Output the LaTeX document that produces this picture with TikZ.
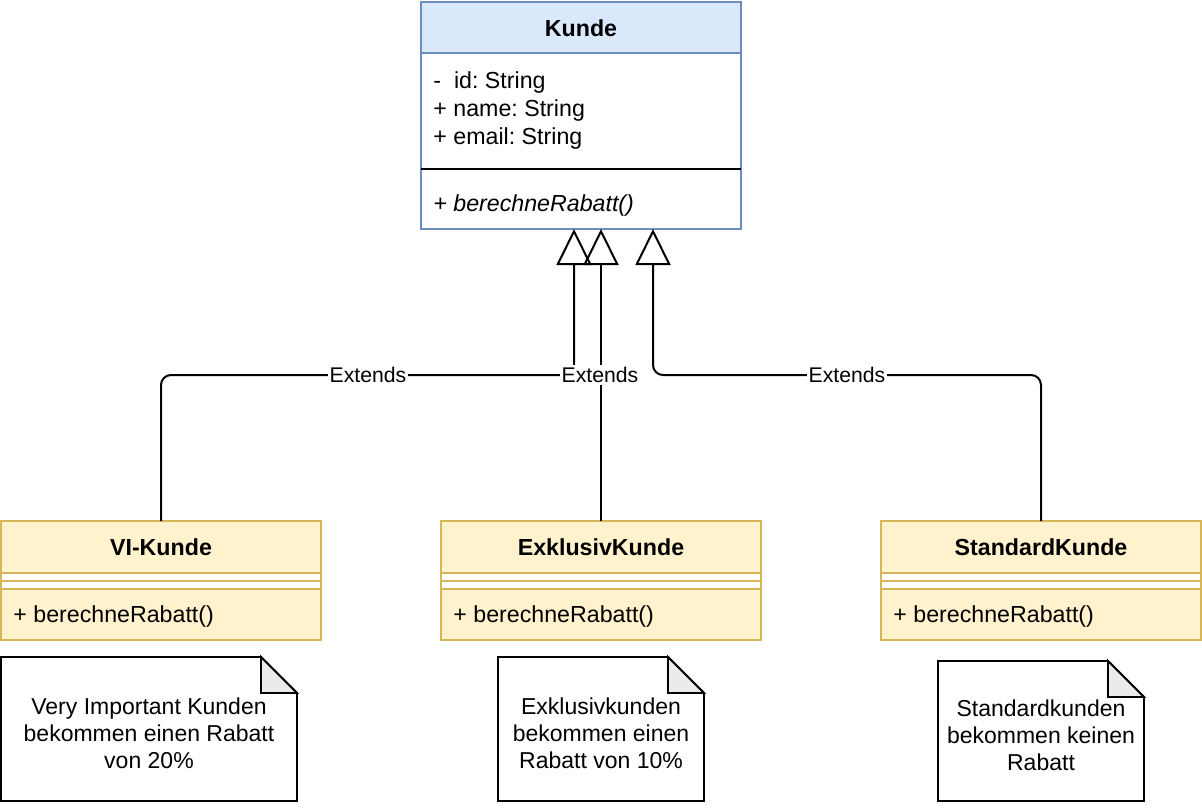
\documentclass[tikz,border=0pt]{standalone}
\usepackage{fontspec}
\setmainfont{Liberation Sans}
\frenchspacing
\usetikzlibrary{positioning,calc,arrows.meta}

\definecolor{kundefill}{HTML}{DAE8FC}
\definecolor{kundeline}{HTML}{6C8EBF}
\definecolor{subfill}{HTML}{FFF2CC}
\definecolor{subline}{HTML}{D6B656}
\definecolor{foldfill}{HTML}{EBEBEB}

\begin{document}
\begin{tikzpicture}[x=0.5pt, y=-0.5pt,
    kundehead/.style={draw=kundeline, fill=kundefill, line width=0.8pt,
      minimum width=160pt, minimum height=26pt, inner sep=0pt, outer sep=0pt,
      font=\fontsize{11.6}{14}\selectfont\bfseries},
    kundebody/.style={draw=kundeline, fill=white, line width=0.8pt,
      minimum width=160pt, minimum height=88pt, inner sep=0pt, outer sep=0pt},
    subhead/.style={draw=subline, fill=subfill, line width=0.8pt,
      minimum width=160pt, minimum height=26pt, inner sep=0pt, outer sep=0pt,
      font=\fontsize{11.6}{14}\selectfont\bfseries},
    subgap/.style={draw=subline, fill=white, line width=0.8pt,
      minimum width=160pt, minimum height=8pt, inner sep=0pt, outer sep=0pt},
    subbody/.style={draw=subline, fill=subfill, line width=0.8pt,
      minimum width=160pt, minimum height=25.5pt, inner sep=0pt, outer sep=0pt},
    member/.style={anchor=west, inner sep=0pt, font=\fontsize{11.6}{14}\selectfont},
    notebox/.style={inner sep=0pt, outer sep=0pt},
    notetext/.style={inner sep=0pt, align=center,
      font=\fontsize{11.5}{13.5}\selectfont},
    noteline/.style={line width=0.9pt, line join=miter},
    notefold/.style={fill=foldfill, draw=black, line width=0.9pt},
    extends/.style={line width=1pt, rounded corners=5pt,
      -{Triangle[open, width=17.5pt, length=18pt]}},
    extlabel/.style={fill=white, inner sep=1pt, font=\fontsize{10.6}{12}\selectfont}]

  \fill[white] (0,0) rectangle (1202,808);
  \useasboundingbox (0,0) rectangle (1202,808);

  % Oberklasse
  \node[kundehead] (kunde) at (581,28) {Kunde};
  \node[kundebody] (kundebody) at (581,141) {};
  \coordinate (sepline) at (0,169);
  \draw[line width=0.9pt] (kundebody.west |- sepline) -- (kundebody.east |- sepline);
  \node[member] (kid) at (433,83) {-\ \ id: String};
  \node[member] (kname) at (433,111) {+ name: String};
  \node[member] (kmail) at (433,139) {+ email: String};
  \node[member, font=\fontsize{11.6}{14}\selectfont\itshape] (kmeth) at (433,205) {+ berechneRabatt()};

  % Unterklassen
  \node[subhead] (vik) at (161,547) {VI-Kunde};
  \node[subgap, below=0pt of vik] (vikgap) {};
  \draw[subline, line width=0.8pt] (vikgap.west) -- (vikgap.east);
  \node[subbody, below=0pt of vikgap] (vikbody) {};
  \node[member] (vikmeth) at (13,616) {+ berechneRabatt()};

  \node[subhead] (exk) at (601,547) {ExklusivKunde};
  \node[subgap, below=0pt of exk] (exkgap) {};
  \draw[subline, line width=0.8pt] (exkgap.west) -- (exkgap.east);
  \node[subbody, below=0pt of exkgap] (exkbody) {};
  \node[member] (exkmeth) at (453,616) {+ berechneRabatt()};

  \node[subhead] (stk) at (1041,547) {StandardKunde};
  \node[subgap, below=0pt of stk] (stkgap) {};
  \draw[subline, line width=0.8pt] (stkgap.west) -- (stkgap.east);
  \node[subbody, below=0pt of stkgap] (stkbody) {};
  \node[member] (stkmeth) at (893,616) {+ berechneRabatt()};

  % Vererbung
  \coordinate (tip1) at ($(kundebody.south)+(-7,0)$);
  \coordinate (tip2) at ($(kundebody.south)+(20,0)$);
  \coordinate (tip3) at ($(kundebody.south)+(72,0)$);
  \coordinate (extrow) at (0,375);

  \draw[extends] (vik.north) |- (tip1 |- extrow) -- (tip1);
  \draw[extends] (stk.north) |- (tip3 |- extrow) -- (tip3);
  \draw[extends] (exk.north) -- (tip2);

  \node[extlabel] (ext1) at (368,375) {Extends};
  \node[extlabel] (ext2) at (600,375) {Extends};
  \node[extlabel] (ext3) at (847,375) {Extends};

  % Notizen
  \node[notebox, minimum width=148pt, minimum height=72pt] (vinote) at (149,729) {};
  \node[notebox, minimum width=103pt, minimum height=72pt] (exnote) at (601,729) {};
  \node[notebox, minimum width=103pt, minimum height=70pt] (stnote) at (1041,731) {};

  \foreach \notename in {vinote,exnote,stnote}{
    \draw[noteline] (\notename.north west) -- ($(\notename.north east)+(-36,0)$)
      -- ($(\notename.north east)+(0,36)$) -- (\notename.south east)
      -- (\notename.south west) -- cycle;
    \draw[notefold] ($(\notename.north east)+(-36,0)$) -- ($(\notename.north east)+(-36,36)$)
      -- ($(\notename.north east)+(0,36)$) -- cycle;
  }

  \node[notetext] (vinotetxt) at ($(vinote)+(0,4)$)
    {Very Important Kunden\\bekommen einen Rabatt\\von 20\%};
  \node[notetext] (exnotetxt) at ($(exnote)+(0,4)$)
    {Exklusivkunden\\bekommen einen\\Rabatt von 10\%};
  \node[notetext] (stnotetxt) at ($(stnote)+(0,4)$)
    {Standardkunden\\bekommen keinen\\Rabatt};

\end{tikzpicture}
\end{document}
